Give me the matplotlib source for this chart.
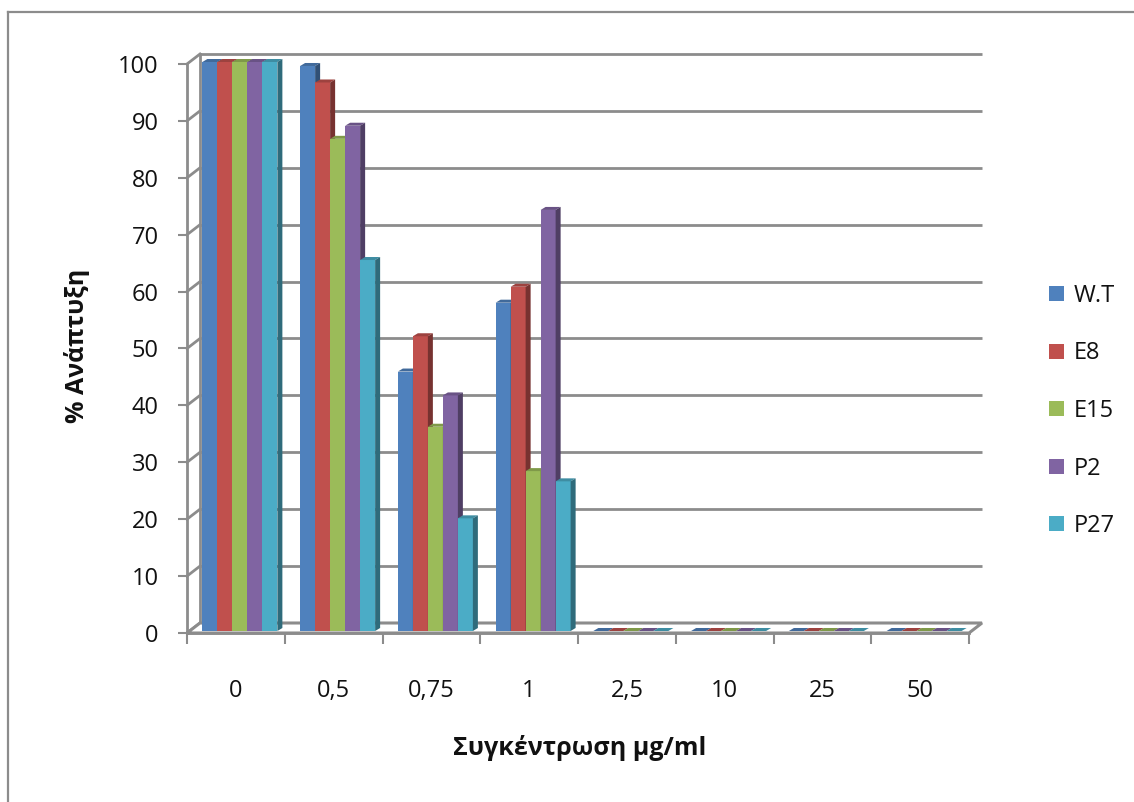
import matplotlib
matplotlib.use("Agg")
import matplotlib.pyplot as plt
from matplotlib.patches import Polygon, Patch
from matplotlib.lines import Line2D
from matplotlib import transforms
from matplotlib.colors import to_rgb

plt.rcParams['font.family'] = ['Open Sans', 'DejaVu Sans']

# ---- data ----
categories = ['0', '0,5', '0,75', '1', '2,5', '10', '25', '50']
series_names = ['W.T', 'E8', 'E15', 'P2', 'P27']
wt = [100, 99.3, 45.6, 57.7, 0, 0, 0, 0]
e8 = [100, 96.4, 51.8, 60.5, 0, 0, 0, 0]
e15 = [100, 86.5, 35.9, 28.1, 0, 0, 0, 0]
p2 = [100, 88.8, 41.4, 74.0, 0, 0, 0, 0]
p27 = [100, 65.2, 19.8, 26.3, 0, 0, 0, 0]
y_ticks = [0, 10, 20, 30, 40, 50, 60, 70, 80, 90, 100]

series = [wt, e8, e15, p2, p27]
colors = ['#4F81BD', '#C0504D', '#9BBB59', '#8064A2', '#4BACC6']
grid_col = '#8C8C8C'


def shade(c, f):
    r, g, b = to_rgb(c)
    return (r * f, g * f, b * f)


W, H = 1134, 802
fig = plt.figure(figsize=(W / 100, H / 100), dpi=100)
ax_l, ax_b, ax_w, ax_h = 187, 633, 782, 569  # pixel frame of the front plane
ax = fig.add_axes([ax_l / W, 1 - ax_b / H, ax_w / W, ax_h / H])
n = len(categories)
ax.set_xlim(0, n)
ax.set_ylim(0, 100)
ax.set_facecolor('none')

# pixel -> data helpers
px_x = n / ax_w
px_y = 100 / ax_h

# back wall / floor depth
bx, by = 13 * px_x, 10 * px_y
for v in y_ticks[1:]:
    ax.plot([bx, n + bx], [v + by, v + by], color=grid_col, lw=2,
            clip_on=False, zorder=1, solid_capstyle='butt')
for v in y_ticks:
    ax.plot([0, bx], [v, v + by], color=grid_col, lw=2, clip_on=False, zorder=1)
ax.plot([bx, bx], [by, 100 + by], color=grid_col, lw=2, clip_on=False, zorder=1)

floor = Polygon([(0, 0), (n, 0), (n + bx, by), (bx, by)], closed=True,
                facecolor='white', edgecolor=grid_col, lw=2.2,
                clip_on=False, zorder=1.5)
ax.add_patch(floor)

# bars with a shallow depth
bw = 15 * px_x
dx, dy = 5 * px_x, 3 * px_y
bar_tr = transforms.offset_copy(ax.transData, fig=fig, x=4, y=2, units='dots')
n_ser = len(series)
for i, (vals, col) in enumerate(zip(series, colors)):
    xs = [j + 0.5 + (i - (n_ser - 1) / 2) * bw for j in range(n)]
    z = 3 + i
    ax.bar(xs, vals, width=bw, color=col, linewidth=0, transform=bar_tr,
           zorder=z, clip_on=False)
    for x, v in zip(xs, vals):
        x0, x1 = x - bw / 2, x + bw / 2
        top = Polygon([(x0, v), (x1, v), (x1 + dx, v + dy), (x0 + dx, v + dy)],
                      closed=True, facecolor=shade(col, 0.82), lw=0,
                      transform=bar_tr, zorder=z + 0.5, clip_on=False)
        side = Polygon([(x1, 0), (x1 + dx, dy), (x1 + dx, v + dy), (x1, v)],
                       closed=True, facecolor=shade(col, 0.62), lw=0,
                       transform=bar_tr, zorder=z + 0.5, clip_on=False)
        ax.add_patch(top)
        ax.add_patch(side)

# axes
for s in ['top', 'right']:
    ax.spines[s].set_visible(False)
for s in ['left', 'bottom']:
    ax.spines[s].set_color(grid_col)
    ax.spines[s].set_linewidth(2)
    ax.spines[s].set_zorder(20)

ax.set_yticks(y_ticks)
ax.set_yticklabels([str(v) for v in y_ticks])
ax.tick_params(axis='y', length=6.5, width=1.5, color=grid_col, pad=14,
               labelsize=17, labelcolor='#111111')

ax.set_xticks(range(n + 1))
ax.set_xticklabels([])
ax.set_xticks([j + 0.5 for j in range(n)], minor=True)
ax.set_xticklabels(categories, minor=True)
ax.tick_params(axis='x', which='major', length=8, width=1.5, color=grid_col)
ax.tick_params(axis='x', which='minor', length=0, pad=33, labelsize=17,
               labelcolor='#111111')

fig.text(77 / W, 1 - 346 / H, '% Ανάπτυξη', rotation=90, ha='center',
         va='center', fontsize=18, fontweight='bold', color='#111111')
fig.text(580 / W, 1 - 748 / H, 'Συγκέντρωση μg/ml', ha='center',
         va='center', fontsize=18, fontweight='bold', color='#111111')

handles = [Patch(facecolor=c, edgecolor='none') for c in colors]
fig.legend(handles, series_names, loc='center left',
           bbox_to_anchor=(1040 / W, 1 - 411 / H), frameon=False,
           fontsize=17, handlelength=0.62, handleheight=0.62,
           handletextpad=0.4, labelspacing=1.42, borderaxespad=0,
           labelcolor='#111111')

# chart border
fig.add_artist(Line2D([8 / W, 8 / W], [0, 1 - 12 / H], transform=fig.transFigure,
                      color=grid_col, lw=1.6))
fig.add_artist(Line2D([8 / W, 1], [1 - 12 / H, 1 - 12 / H],
                      transform=fig.transFigure, color=grid_col, lw=1.6))

fig.savefig('out.png', dpi=100)
